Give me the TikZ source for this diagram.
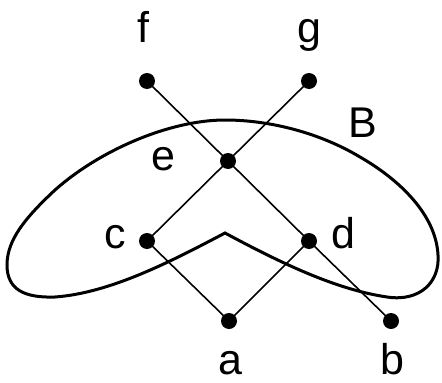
\documentclass[tikz,border=0pt]{standalone}
\usepackage{fontspec}
\setmainfont{Liberation Sans}
\begin{document}
\begin{tikzpicture}[x=1pt,y=-1pt,
  dot/.style={circle,fill=black,inner sep=0pt,minimum size=16pt},
  lbl/.style={anchor=base,inner sep=0pt,font=\fontsize{43}{50}\selectfont},
  edge/.style={line width=1.6pt},
  blob/.style={line width=3pt,line join=miter}]
\useasboundingbox (0,0) rectangle (442,383);
\node[dot] (f) at (147,81) {};
\node[dot] (g) at (309,81) {};
\node[dot] (e) at (228,161) {};
\node[dot] (c) at (147,241) {};
\node[dot] (d) at (309,241) {};
\node[dot] (a) at (229,321) {};
\node[dot] (b) at (391,321) {};
\node[lbl] (lf) at (143,42) {f};
\node[lbl] (lg) at (309,42) {g};
\node[lbl] (le) at (163,170) {e};
\node[lbl] (lc) at (115,248) {c};
\node[lbl] (ld) at (343,248) {d};
\node[lbl] (lB) at (363,137) {B};
\node[lbl] (la) at (230,374) {a};
\node[lbl] (lb) at (392,374) {b};
\draw[edge] (f.center) -- (e.center) -- (d.center) -- (b.center);
\draw[edge] (g.center) -- (e.center) -- (c.center);
\draw[edge] (c.center) -- (a.center) -- (d.center);
\draw[blob] (225,233) .. controls (290,268) and (340,290) .. (387,297)
  .. controls (420,302) and (440,282) .. (438,255)
  .. controls (436,215) and (400,180) .. (360,157)
  .. controls (320,133) and (270,120) .. (225,120)
  .. controls (170,120) and (100,150) .. (55,190)
  .. controls (25,218) and (7,240) .. (7,265)
  .. controls (7,290) and (25,298) .. (55,297)
  .. controls (110,293) and (170,262) .. cycle;
\end{tikzpicture}
\end{document}
